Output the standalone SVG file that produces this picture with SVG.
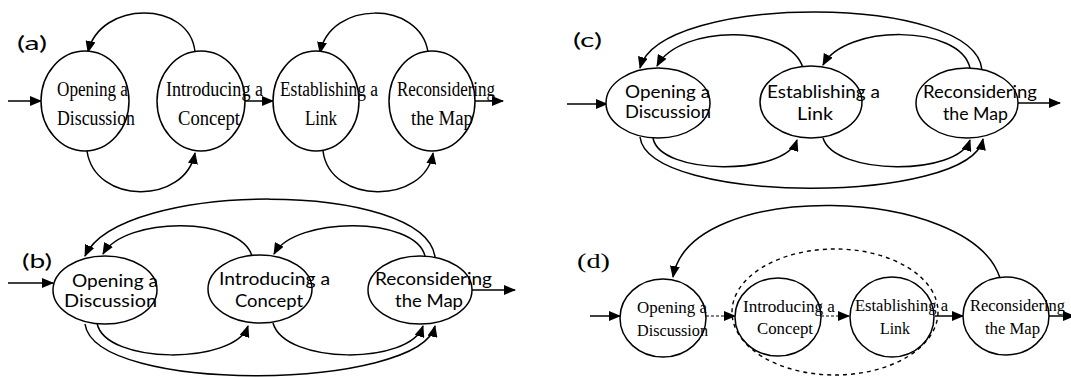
<svg xmlns="http://www.w3.org/2000/svg" width="1071" height="377" viewBox="0 0 1071 377">
<style>
.bg{fill:#fff}
.n{fill:#fff;stroke:#000;stroke-width:1.5}
.c{fill:none;stroke:#000;stroke-width:1.5}
.a{marker-end:url(#ah)}
.d{stroke-dasharray:3 2;stroke-width:1.2}
.dot{fill:none;stroke:#000;stroke-width:1.4;stroke-dasharray:4 4}
.s{font-family:"Liberation Serif","Times New Roman",serif;fill:#000}
.ss{font-family:Lato,"Liberation Sans",sans-serif;fill:#000}
.t20{font-size:20px}
.t17{font-size:17px}
.t16{font-size:16.5px}
</style>
<defs>
<marker id="ah" markerWidth="12" markerHeight="10" refX="11" refY="5" orient="auto" markerUnits="userSpaceOnUse">
<path d="M0,0 L12,5 L0,10 z" fill="#000"/>
</marker>
</defs>
<rect class="bg" x="0" y="0" width="1071" height="377"/>

<!-- Panel labels -->
<g id="labels">
<text class="ss" x="17" y="50" font-size="20" textLength="30" lengthAdjust="spacingAndGlyphs">(a)</text>
<text class="ss" x="22" y="268" font-size="20" textLength="30" lengthAdjust="spacingAndGlyphs">(b)</text>
<text class="ss" x="573" y="47" font-size="20" textLength="29" lengthAdjust="spacingAndGlyphs">(c)</text>
<text class="s" x="577" y="268" font-size="21" textLength="33" lengthAdjust="spacingAndGlyphs">(d)</text>
</g>

<!-- Panel (a) -->
<g id="a-connectors">
<line class="c a" x1="8" y1="101" x2="41" y2="101"/>
<line class="c a" x1="245" y1="101" x2="273" y2="101"/>
<line class="c a" x1="475" y1="101" x2="503" y2="101"/>
<path class="c a" d="M195,52 C190,0 100,0 88,52"/>
<path class="c a" d="M87,151 C95,205 185,205 195,153"/>
<path class="c a" d="M428,52 C420,0 330,0 320,53"/>
<path class="c a" d="M323,151 C330,205 425,205 433,153"/>
</g>
<g id="a-opening">
<ellipse class="n" cx="85" cy="101" rx="44" ry="50"/>
<text class="s t20" x="57" y="96" textLength="71" lengthAdjust="spacingAndGlyphs">Opening a</text>
<text class="s t20" x="57" y="125" textLength="78" lengthAdjust="spacingAndGlyphs">Discussion</text>
</g>
<g id="a-introducing">
<ellipse class="n" cx="201" cy="101" rx="44" ry="50" fill="none"/>
<text class="s t20" x="166" y="96" textLength="97" lengthAdjust="spacingAndGlyphs">Introducing a</text>
<text class="s t20" x="178" y="125" textLength="62" lengthAdjust="spacingAndGlyphs">Concept</text>
</g>
<g id="a-establishing">
<ellipse class="n" cx="316" cy="101" rx="43" ry="50"/>
<text class="s t20" x="280" y="96" textLength="98" lengthAdjust="spacingAndGlyphs">Establishing a</text>
<text class="s t20" x="305" y="125" textLength="32" lengthAdjust="spacingAndGlyphs">Link</text>
</g>
<g id="a-reconsidering">
<ellipse class="n" cx="432" cy="101" rx="43" ry="50"/>
<text class="s t20" x="397" y="96" textLength="98" lengthAdjust="spacingAndGlyphs">Reconsidering</text>
<text class="s t20" x="411" y="125" textLength="62" lengthAdjust="spacingAndGlyphs">the Map</text>
</g>

<!-- Panel (b) -->
<g id="b-connectors">
<line class="c a" x1="8" y1="283" x2="53" y2="283"/>
<line class="c a" x1="472" y1="290" x2="515" y2="290"/>
<path class="c a" d="M435,257 C425,180 120,180 85,256"/>
<path class="c a" d="M252,256 C240,216 125,216 103,254"/>
<path class="c a" d="M425,256 C415,216 295,216 274,254"/>
<path class="c a" d="M97,323 C105,365 235,365 248,326"/>
<path class="c a" d="M85,324 C95,395 420,390 435,326"/>
<path class="c a" d="M273,323 C285,365 410,365 423,326"/>
</g>
<g id="b-opening">
<ellipse class="n" cx="105" cy="290" rx="52" ry="34"/>
<text class="ss t17" x="72" y="287" textLength="86" lengthAdjust="spacingAndGlyphs">Opening a</text>
<text class="ss t17" x="64" y="307" textLength="93" lengthAdjust="spacingAndGlyphs">Discussion</text>
</g>
<g id="b-introducing">
<ellipse class="n" cx="260" cy="289" rx="52" ry="34"/>
<text class="ss t17" x="219" y="285" textLength="111" lengthAdjust="spacingAndGlyphs">Introducing a</text>
<text class="ss t17" x="235" y="307" textLength="68" lengthAdjust="spacingAndGlyphs">Concept</text>
</g>
<g id="b-reconsidering">
<ellipse class="n" cx="420" cy="290" rx="52" ry="34"/>
<text class="ss t17" x="375" y="285" textLength="117" lengthAdjust="spacingAndGlyphs">Reconsidering</text>
<text class="ss t17" x="395" y="307" textLength="68" lengthAdjust="spacingAndGlyphs">the Map</text>
</g>

<!-- Panel (c) -->
<g id="c-connectors">
<line class="c a" x1="567" y1="104" x2="607" y2="104"/>
<line class="c a" x1="1018" y1="103" x2="1060" y2="103"/>
<path class="c a" d="M982,70 C975,-7 660,-7 640,68"/>
<path class="c a" d="M803,68 C790,24 680,24 657,66"/>
<path class="c a" d="M970,68 C960,24 845,24 823,65"/>
<path class="c a" d="M653,138 C660,176 785,176 797,140"/>
<path class="c a" d="M640,137 C648,205 970,205 983,139"/>
<path class="c a" d="M823,138 C835,176 958,176 970,140"/>
</g>
<g id="c-opening">
<ellipse class="n" cx="658" cy="103" rx="52" ry="35"/>
<text class="ss t17" x="625" y="98" textLength="85" lengthAdjust="spacingAndGlyphs">Opening a</text>
<text class="ss t17" x="625" y="118" textLength="86" lengthAdjust="spacingAndGlyphs">Discussion</text>
</g>
<g id="c-establishing">
<ellipse class="n" cx="811" cy="102" rx="51" ry="36"/>
<text class="ss t17" x="767" y="98" textLength="113" lengthAdjust="spacingAndGlyphs">Establishing a</text>
<text class="ss t17" x="797" y="120" textLength="36" lengthAdjust="spacingAndGlyphs">Link</text>
</g>
<g id="c-reconsidering">
<ellipse class="n" cx="967" cy="103" rx="51" ry="35"/>
<text class="ss t17" x="923" y="98" textLength="114" lengthAdjust="spacingAndGlyphs">Reconsidering</text>
<text class="ss t17" x="943" y="120" textLength="65" lengthAdjust="spacingAndGlyphs">the Map</text>
</g>

<!-- Panel (d) -->
<g id="d-connectors">
<line class="c a" x1="590" y1="316" x2="620" y2="316"/>
<line class="c a d" x1="706" y1="316" x2="735" y2="316"/>
<line class="c a d" x1="821" y1="316" x2="849" y2="316"/>
<line class="c a" x1="935" y1="316" x2="963" y2="316"/>
<line class="c a" x1="1049" y1="316" x2="1074" y2="316"/>
<path class="c a" d="M1000,278 C970,185 690,178 673,277"/>
</g>
<g id="d-opening">
<ellipse class="n" cx="663" cy="318" rx="43" ry="39"/>
<text class="s t16" x="637" y="313" textLength="70" lengthAdjust="spacingAndGlyphs">Opening a</text>
<text class="s t16" x="637" y="336" textLength="71" lengthAdjust="spacingAndGlyphs">Discussion</text>
</g>
<g id="d-introducing">
<ellipse class="n" cx="778" cy="317" rx="43" ry="39"/>
<text class="s t16" x="743" y="312" textLength="92" lengthAdjust="spacingAndGlyphs">Introducing a</text>
<text class="s t16" x="757" y="334" textLength="56" lengthAdjust="spacingAndGlyphs">Concept</text>
</g>
<g id="d-establishing">
<ellipse class="n" cx="892" cy="317" rx="42" ry="40"/>
<text class="s t16" x="855" y="311" textLength="93" lengthAdjust="spacingAndGlyphs">Establishing a</text>
<text class="s t16" x="880" y="334" textLength="30" lengthAdjust="spacingAndGlyphs">Link</text>
</g>
<g id="d-group">
<ellipse class="dot" cx="835" cy="312" rx="103" ry="63"/>
</g>
<g id="d-reconsidering">
<ellipse class="n" cx="1006" cy="316" rx="43" ry="39"/>
<text class="s t16" x="970" y="311" textLength="95" lengthAdjust="spacingAndGlyphs">Reconsidering</text>
<text class="s t16" x="985" y="334" textLength="55" lengthAdjust="spacingAndGlyphs">the Map</text>
</g>
</svg>
